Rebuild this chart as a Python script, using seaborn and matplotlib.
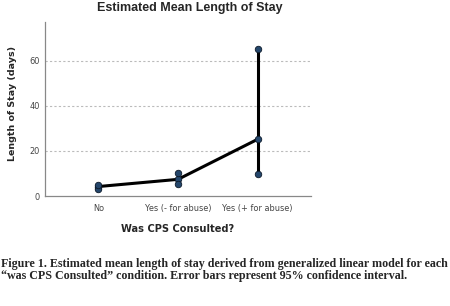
import matplotlib
matplotlib.use("Agg")
import matplotlib.pyplot as plt
import seaborn as sns
import pandas as pd

categories = ["No", "Yes (- for abuse)", "Yes (+ for abuse)"]
means = [4.2, 7.4, 25.2]
ci_low = [3.3, 5.3, 9.6]
ci_high = [5.0, 10.4, 65.5]
yticks = [0, 20, 40, 60]

sns.set_theme(style="white")
plt.rcParams['font.family'] = ['DejaVu Sans']

df = pd.DataFrame({"cat": categories, "mean": means, "lo": ci_low, "hi": ci_high})
pos = list(range(len(categories)))

fig = plt.figure(figsize=(4.5, 3.06), dpi=100)
ax = fig.add_axes([45/450, 1-196/306, (311-45)/450, (196-22)/306])

sns.lineplot(x=pos, y=df["mean"], ax=ax, color="black", lw=2.2, zorder=2)
ax.vlines(pos, df["lo"], df["hi"], color="black", lw=2.2, zorder=2)
pts = pd.DataFrame({"x": pos*3, "y": list(df["mean"]) + list(df["lo"]) + list(df["hi"])})
sns.scatterplot(data=pts, x="x", y="y", ax=ax, color="#24466b", edgecolor="#0d1a2a",
                s=22, linewidth=0.6, zorder=3)

ax.set_xlim(-0.67, 2.67)
ax.set_ylim(0, 77.3)
ax.set_xticks(pos)
ax.set_xticklabels(categories)
ax.set_yticks(yticks)
ax.tick_params(axis="x", length=0, labelsize=5.9, colors="#444444", pad=6)
ax.tick_params(axis="y", length=0, labelsize=5.9, colors="#444444", pad=4)
for v in yticks[1:]:
    ax.axhline(v, color="#bbbbbb", lw=0.8, ls=(0, (2, 2)), zorder=1)
for s in ["top", "right"]:
    ax.spines[s].set_visible(False)
for s in ["left", "bottom"]:
    ax.spines[s].set_color("#888888")
    ax.spines[s].set_linewidth(0.9)

ax.set_xlabel("Was CPS Consulted?", fontsize=7.1, fontweight="bold", labelpad=8)
ax.set_ylabel("Length of Stay (days)", fontsize=6.8, fontweight="bold")
ax.yaxis.set_label_coords(-0.105, 0.534)
fig.text(190/450, 1-8/306, "Estimated Mean Length of Stay", ha="center", va="center",
         fontsize=9.0, fontweight="bold", family=["Liberation Sans"])

cap = ("Figure 1. Estimated mean length of stay derived from generalized linear model for each\n"
       "\u201cwas CPS Consulted\u201d condition. Error bars represent 95% confidence interval.")
fig.text(1/450, 1-270/306, cap, ha="left", va="center", fontsize=8.68, fontweight="bold",
         family=["Liberation Serif"], linespacing=1.0)

fig.savefig("out.png", dpi=100)
